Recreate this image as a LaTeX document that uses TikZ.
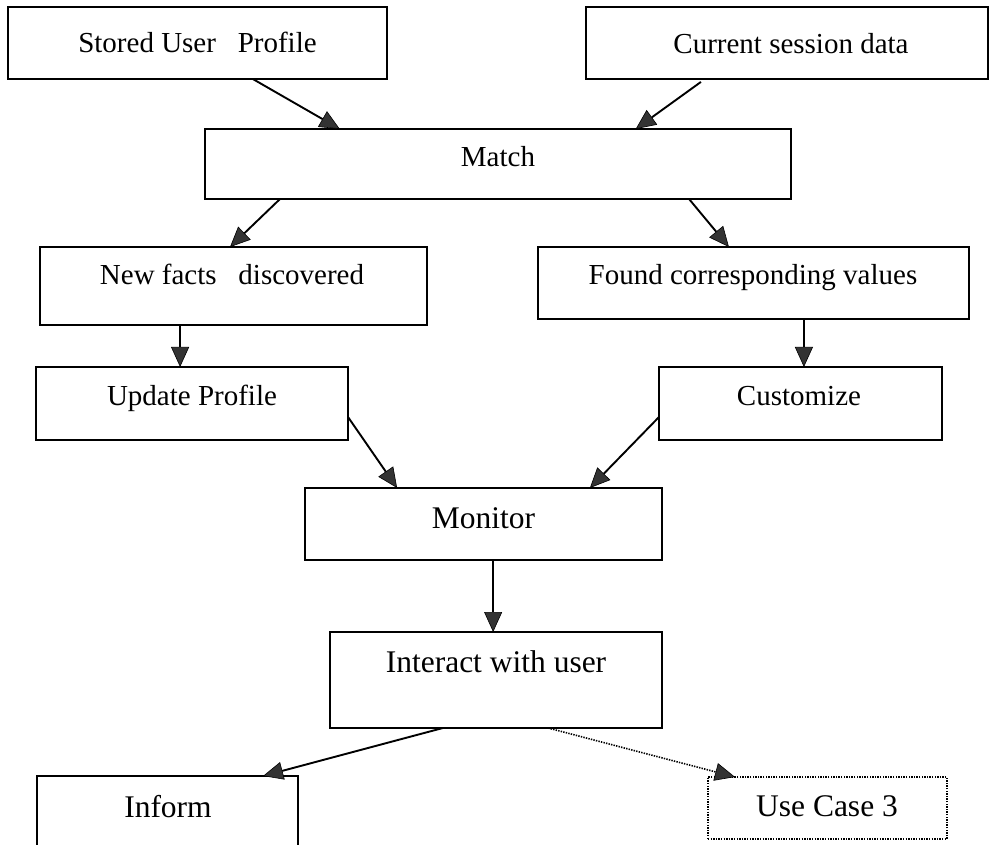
\documentclass[tikz,border=0pt]{standalone}
\usepackage{fontspec}
\setmainfont{Liberation Serif}
\usetikzlibrary{arrows.meta,calc}

\tikzset{
  x=1pt, y=-1pt,
  box/.style={draw=black, line width=1.7pt, inner sep=0pt, outer sep=0pt, rectangle},
  dotbox/.style={box, line width=1.5pt, dash pattern=on 1.4pt off 1.2pt},
  lbl/.style={anchor=base, inner sep=0pt, font=\fontsize{29}{34}\selectfont},
  lblbig/.style={anchor=base, inner sep=0pt, font=\fontsize{31.5}{37}\selectfont},
  arr/.style={line width=1.9pt, draw=black,
    -{Triangle[length=20pt,width=18pt,color=black,fill=black!80,line width=0.6pt]}},
  dotarr/.style={arr, line width=1.6pt, dash pattern=on 1.4pt off 1.2pt},
}

\begin{document}
\begin{tikzpicture}
\useasboundingbox (0,0) rectangle (989,845);
\clip (0,0) rectangle (989,845);

% boxes
\node[box, minimum width=379pt, minimum height=72pt] (sup)   at (197.5,43)  {};
\node[box, minimum width=402pt, minimum height=72pt] (csd)   at (787,43)    {};
\node[box, minimum width=586pt, minimum height=70pt] (match) at (498,164)   {};
\node[box, minimum width=387pt, minimum height=78pt] (nfd)   at (233.5,286) {};
\node[box, minimum width=431pt, minimum height=72pt] (fcv)   at (753.5,283) {};
\node[box, minimum width=312pt, minimum height=73pt] (upd)   at (192,403.5) {};
\node[box, minimum width=283pt, minimum height=73pt] (cust)  at (800.5,403.5) {};
\node[box, minimum width=357pt, minimum height=72pt] (mon)   at (483.5,524) {};
\node[box, minimum width=332pt, minimum height=96pt] (inter) at (496,680)   {};
\node[box, minimum width=261pt, minimum height=104pt] (inform) at (167.5,828) {};
\node[dotbox, minimum width=239pt, minimum height=62pt] (uc) at (827.5,808) {};

% labels
\node[lbl] (supT)   at (197.5,53) {Stored User\ \ \ Profile};
\node[lbl] (csdT)   at (791,54)   {Current session data};
\node[lbl] (matchT) at (498,167)  {Match};
\node[lbl] (nfdT)   at (232,285)  {New facts\ \ \ discovered};
\node[lbl] (fcvT)   at (753,285)  {Found corresponding values};
\node[lbl] (updT)   at (192,405)  {Update Profile};
\node[lbl] (custT)  at (799,406)  {Customize};
\node[lblbig] (monT)    at (483.5,528) {Monitor};
\node[lblbig] (interT)  at (496,672)   {Interact with user};
\node[lblbig] (informT) at (168,817)   {Inform};
\node[lblbig] (ucT)     at (827,816)   {Use Case 3};

% connectors
\draw[arr] ($(sup.south west)!0.646!(sup.south east)$) -- ($(match.north west)!0.230!(match.north east)$);
\draw[arr, shorten <=5pt] ($(csd.south west)!0.296!(csd.south east)$) -- ($(match.north west)!0.735!(match.north east)$);
\draw[arr] ($(match.south west)!0.128!(match.south east)$) -- ($(nfd.north west)!0.491!(nfd.north east)$);
\draw[arr] ($(match.south west)!0.826!(match.south east)$) -- ($(fcv.north west)!0.443!(fcv.north east)$);
\draw[arr] ($(nfd.south west)!0.362!(nfd.south east)$) coordinate (p1) -- (p1 |- upd.north);
\draw[arr] ($(fcv.south west)!0.617!(fcv.south east)$) coordinate (p2) -- (p2 |- cust.north);
\draw[arr] ($(upd.north east)!0.685!(upd.south east)$) -- ($(mon.north west)!0.258!(mon.north east)$);
\draw[arr] ($(cust.north west)!0.685!(cust.south west)$) -- ($(mon.north west)!0.798!(mon.north east)$);
\draw[arr] ($(mon.south west)!0.527!(mon.south east)$) coordinate (p3) -- (p3 |- inter.north);
\draw[arr] ($(inter.south west)!0.340!(inter.south east)$) -- ($(inform.north west)!0.866!(inform.north east)$);
\draw[dotarr] ($(inter.south west)!0.657!(inter.south east)$) -- ($(uc.north west)!0.113!(uc.north east)$);
\end{tikzpicture}
\end{document}
